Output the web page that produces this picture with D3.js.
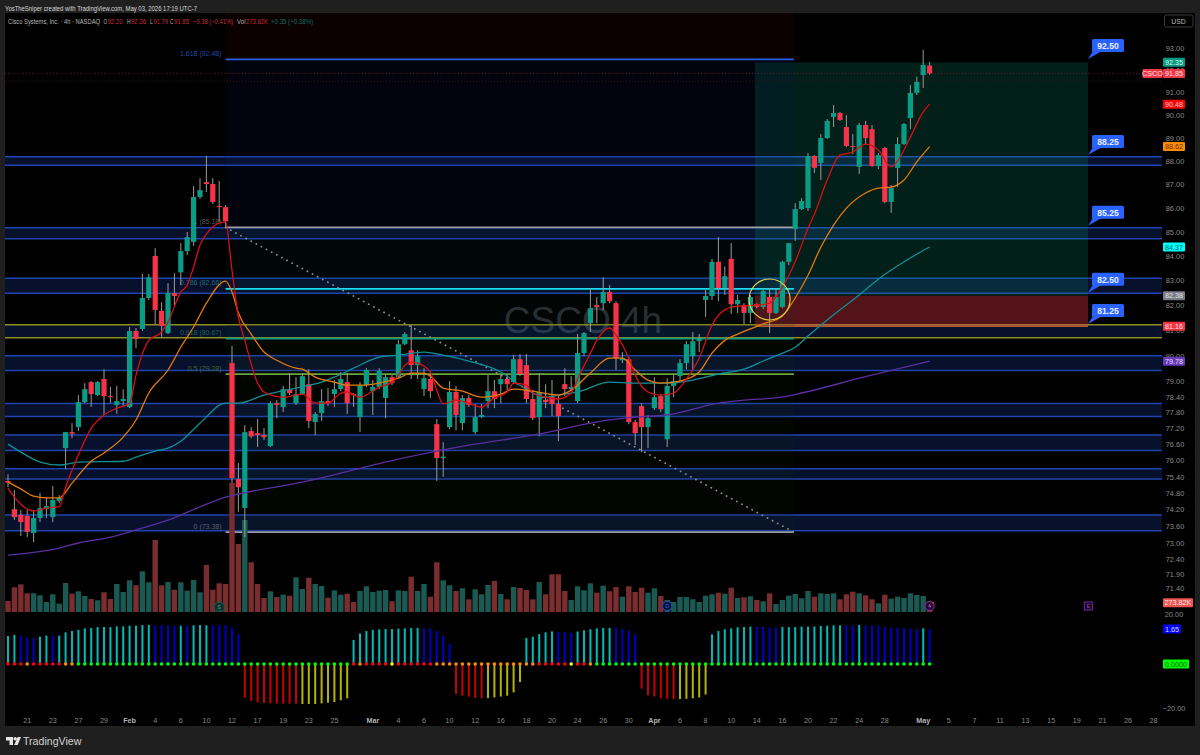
<!DOCTYPE html>
<html>
<head>
<meta charset="utf-8">
<title>CSCO 4h</title>
<script src="https://cdn.jsdelivr.net/npm/d3@7/dist/d3.min.js"></script>
<style>
  html, body { margin: 0; padding: 0; background: #1f1f1f; overflow: hidden; }
  svg { display: block; font-family: "Liberation Sans", Arial, sans-serif; }
</style>
</head>
<body>
<svg id="chart" width="1200" height="755"></svg>
<script>
// ── Data ──────────────────────────────────────────────────────────────────────

const opens = [
  75.24,74.21,74.00,73.96,73.35,73.89,74.21,73.92,74.51,76.46,
  77.06,77.25,78.20,78.97,78.47,79.09,78.43,78.09,78.24,78.01,
  80.97,81.05,82.29,84.00,81.77,80.89,82.49,83.33,84.20,84.58,
  86.46,87.09,87.01,86.08,86.03,79.71,75.31,74.25,77.10,77.02,
  76.95,76.54,78.16,78.01,78.70,78.16,78.51,78.89,77.44,77.78,
  78.24,78.51,78.70,78.97,78.51,77.63,78.85,78.62,78.78,78.36,
  79.16,79.16,80.45,80.21,79.63,78.70,79.09,77.36,76.09,77.25,
  78.59,77.40,78.36,77.06,77.63,78.24,78.62,78.89,79.09,78.97,
  79.86,79.63,78.32,77.63,78.28,78.43,78.13,78.89,78.70,78.24,
  80.10,81.28,82.00,82.08,82.53,82.08,79.82,79.86,77.44,78.05,
  77.25,77.97,78.43,76.79,78.82,79.20,79.71,79.98,80.57,82.21,
  82.37,83.76,82.69,83.88,82.04,82.00,81.69,82.04,81.93,82.33,
  81.69,81.93,83.76,85.11,85.95,85.99,88.21,87.91,88.99,89.91,
  90.09,89.47,88.64,87.74,89.56,89.38,87.78,88.56,86.25,87.70,
  88.73,89.87,90.98,91.78,92.20
];
const highs = [
  75.49,74.91,74.18,74.18,74.18,74.80,74.62,75.05,74.72,77.06,
  77.40,78.47,78.93,79.01,79.01,79.47,78.78,78.82,78.70,81.13,
  81.09,83.26,83.26,84.32,82.12,82.89,83.29,84.53,84.99,86.92,
  87.26,88.21,87.26,87.14,86.12,80.38,75.90,77.33,77.25,77.55,
  77.21,78.24,78.28,78.82,79.32,79.16,79.32,79.47,77.82,78.70,
  78.74,79.05,79.36,79.32,78.55,78.97,79.51,79.05,79.51,79.24,
  79.24,80.60,80.93,81.21,80.21,79.51,79.36,77.55,76.68,79.01,
  78.82,78.47,78.47,78.13,78.13,79.24,79.05,79.24,79.24,80.02,
  80.06,80.06,78.66,79.32,78.89,79.05,78.43,79.51,79.20,80.85,
  80.93,82.69,82.33,83.13,82.81,82.16,80.14,79.94,77.52,78.16,
  77.71,79.16,78.51,79.12,79.24,79.86,80.57,80.93,80.85,82.61,
  83.88,84.78,83.57,84.53,82.41,82.08,82.41,82.08,82.69,82.69,
  82.69,83.80,84.53,86.20,86.41,88.34,88.25,89.16,89.82,90.44,
  90.13,90.00,89.16,89.65,89.74,89.56,88.34,88.60,86.97,89.03,
  89.65,91.33,91.70,92.91,92.36
];
const lows = [
  75.01,73.82,73.24,73.20,73.02,73.74,73.89,73.74,74.43,75.68,
  76.83,77.10,78.16,78.01,78.43,77.71,78.16,77.75,78.01,77.97,
  80.29,80.97,82.21,81.21,80.74,80.85,82.00,82.81,84.04,84.42,
  86.38,86.67,86.16,85.40,85.19,75.16,74.11,73.20,76.83,76.50,
  76.76,76.50,77.59,77.82,78.47,78.09,78.47,77.21,76.95,77.48,
  78.05,78.01,78.62,77.75,78.01,77.06,78.78,77.71,78.70,77.59,
  78.85,79.12,80.41,79.09,79.09,78.43,78.36,75.24,75.39,77.17,
  77.13,77.13,78.01,76.98,77.59,77.97,77.97,78.16,78.66,78.89,
  79.20,78.16,77.52,76.90,77.97,77.67,76.72,78.43,78.62,78.16,
  79.98,80.93,81.28,81.81,82.08,79.44,79.71,77.36,76.57,76.31,
  76.46,77.90,77.82,76.50,78.39,79.01,79.47,79.44,80.14,81.53,
  82.21,82.16,82.41,81.65,81.69,81.25,81.28,81.88,81.85,80.89,
  81.65,81.88,83.63,84.62,85.91,85.87,87.48,87.18,88.95,89.47,
  89.74,88.60,88.30,87.44,88.73,87.74,87.65,86.20,85.79,86.88,
  88.69,89.38,90.89,91.20,91.79
];
const closes = [
  75.18,73.92,73.74,73.39,73.89,74.25,74.32,74.54,74.62,77.06,
  77.00,78.20,78.70,78.51,78.97,78.43,78.39,78.24,78.32,80.97,
  80.65,82.29,83.13,81.81,81.17,82.49,82.37,84.20,84.78,86.46,
  86.75,87.01,86.25,86.03,85.44,75.35,75.01,77.06,76.90,76.95,
  76.87,78.16,78.09,78.70,78.55,78.51,79.20,77.48,77.75,78.24,
  78.16,78.70,79.09,78.16,78.47,78.85,79.44,78.78,79.40,79.16,
  78.93,80.45,80.85,79.63,79.98,79.12,78.62,76.09,76.14,78.59,
  77.71,78.36,78.09,77.63,77.71,78.62,78.32,79.09,78.89,79.86,
  79.28,78.32,77.59,78.59,78.20,78.13,77.67,78.70,78.78,80.10,
  80.89,81.88,81.93,82.53,82.16,79.90,79.90,77.44,77.02,77.25,
  77.59,78.39,77.93,78.82,79.01,79.71,80.45,80.57,80.65,82.37,
  83.76,82.69,83.17,82.04,82.21,81.69,82.33,81.93,82.57,81.69,
  82.33,83.76,84.53,85.95,86.29,88.21,87.70,88.99,89.74,90.09,
  89.78,88.64,88.60,89.56,88.99,87.78,88.25,86.25,86.84,88.73,
  89.60,90.98,91.47,92.23,91.85
];
// thousands of shares
const volumes = [
  330,741,831,561,561,501,300,531,249,870,
  549,621,480,390,351,591,390,840,600,951,
  801,1221,891,2160,801,900,669,891,639,960,
  591,1410,669,861,840,3870,2040,2760,1491,840,
  420,621,450,519,489,1041,690,1029,840,780,
  429,651,519,549,300,630,771,600,639,660,
  321,651,630,1059,630,840,459,1491,951,801,
  630,711,381,681,531,810,930,540,381,750,
  720,660,381,900,531,1131,1131,630,360,771,
  651,861,579,789,621,750,459,771,600,729,
  579,711,480,360,300,450,450,381,300,489,
  531,579,549,729,420,441,471,360,321,561,
  240,360,489,540,411,630,459,561,540,561,
  381,531,609,561,501,381,261,519,399,459,
  420,561,510,480,273.82
];
const oscValues = [
  12.7,13.2,12.7,12.0,11.8,12.4,12.9,12.9,12.9,14.4,
  15.0,15.5,16.2,16.4,16.8,16.8,16.8,17.1,17.1,17.4,
  17.4,17.7,17.7,17.6,17.6,17.6,17.4,17.4,17.4,17.6,
  17.7,17.6,17.6,17.6,17.6,16.5,13.6,-15.3,-16.8,-17.4,
  -17.7,-17.9,-18.0,-18.0,-18.0,-18.0,-18.2,-18.2,-18.2,-17.9,
  -17.6,-17.3,-16.5,-15.6,10.9,13.9,15.0,15.5,15.8,15.9,
  15.9,16.1,16.2,16.4,16.4,16.2,16.1,15.0,12.9,9.1,
  -13.6,-14.4,-14.8,-15.5,-15.6,-15.5,-15.2,-14.8,-14.4,-12.9,
  -8.2,11.8,12.4,13.6,14.4,14.8,14.5,14.5,14.1,14.8,
  15.3,15.8,16.2,16.4,16.4,16.4,15.9,15.3,13.5,-11.2,
  -14.2,-14.8,-15.6,-15.9,-15.9,-15.9,-15.8,-15.6,-15.2,-13.9,
  13.5,15.0,15.8,16.2,16.7,16.8,17.0,16.8,16.8,16.7,
  16.5,16.8,16.8,16.8,17.0,17.0,17.1,17.3,17.4,17.6,
  17.6,17.6,17.6,17.7,17.6,17.4,17.3,16.8,16.5,16.4,
  16.2,16.1,15.9,16.2,15.9
];
// one letter per bar: t teal, b blue, r red, y yellow
const oscShade = 'ttbbbttb' + 'ttttttttttttttt' + 'bbbb' + 't' + 'b' + 'ttt' + 'bbbbb' +
  'rrrrrrrrr' + 'yyyyyyyy' + 'ttttttttttt' + 'bbbbb' + 'rrrrr' + 'yyyyyy' + 'ttttt' + 'bbb' +
  'tttttt' + 'bbbb' + 'rrrrrr' + 'yyyyy' + 'ttttttt' + 'bbbb' + 'tttttttttt' + 'bb' + 't' +
  'bbbbbbbbb' + 't' + 'b';
// one letter per bar: r red, o orange, g lime, y yellow
const oscDots = 'rrrorrrrroo' + 'g'.repeat(43) + 'r' + 'o' + 'rrrr' + 'y' + 'rrrrrr' +
  'oooooooooooooooo' + 'rrrrr' + 'y' + 'rr' + 'o' + 'g'.repeat(53);

// moving averages: [bar, price]
const maFast = [[0,74.98],[1,74.65],[4,74.14],[6,74.25],[8,74.30],[9,75.01],[11,76.20],[13,77.21],[15,77.71],[17,77.97],[19,78.16],[20,79.24],[22,80.60],[24,80.93],[25,81.33],[27,82.53],[28,82.81],[29,83.55],[30,84.45],[31,84.90],[33,85.36],[34,85.40],[35,83.41],[36,81.53],[37,80.60],[39,78.93],[40,78.59],[43,78.39],[46,78.51],[48,78.16],[50,78.16],[52,78.55],[53,78.59],[55,78.39],[58,78.78],[60,78.97],[61,79.24],[62,79.63],[63,79.75],[64,79.71],[66,79.36],[67,78.66],[68,78.13],[70,78.28],[72,78.16],[74,78.01],[76,78.36],[78,78.59],[79,78.93],[81,78.85],[82,78.55],[84,78.39],[86,78.32],[88,78.55],[89,79.09],[91,80.10],[92,80.60],[94,81.09],[95,80.82],[97,79.90],[98,79.24],[100,78.59],[102,78.47],[104,78.55],[106,79.09],[108,79.90],[110,81.21],[112,81.81],[114,81.96],[117,82.00],[119,82.08],[121,82.73],[123,83.76],[125,85.15],[126,85.74],[128,87.18],[130,88.25],[132,88.38],[134,88.73],[136,88.47],[138,87.74],[139,88.00],[141,89.03],[143,90.14],[144,90.48]];
const maMid = [[0,75.20],[2,74.95],[4,74.68],[6,74.62],[8,74.62],[10,75.16],[13,75.97],[15,76.28],[18,76.87],[20,77.52],[22,78.55],[25,79.44],[27,80.33],[29,81.13],[31,82.08],[34,82.97],[35,82.53],[36,81.69],[38,80.85],[40,80.14],[42,79.82],[45,79.51],[46,79.47],[48,79.16],[51,78.97],[53,78.85],[55,78.85],[58,78.93],[61,79.12],[63,79.32],[65,79.32],[66,79.20],[68,78.74],[71,78.62],[74,78.39],[77,78.51],[79,78.70],[82,78.62],[86,78.47],[88,78.66],[91,79.32],[94,79.90],[96,79.90],[98,79.44],[100,79.05],[102,78.93],[105,79.01],[108,79.36],[110,80.10],[112,80.60],[114,80.85],[118,81.25],[121,81.57],[123,82.29],[125,83.21],[127,84.36],[129,85.28],[131,85.99],[134,86.63],[136,86.84],[138,86.88],[140,87.18],[142,87.96],[144,88.62]];
const maSlow = [[0,76.61],[2,76.31],[5,75.94],[8,75.83],[11,75.94],[18,75.97],[20,76.12],[23,76.35],[25,76.46],[27,76.72],[30,77.40],[34,78.16],[36,78.16],[40,78.47],[45,78.74],[49,78.97],[51,79.16],[54,79.51],[58,79.94],[61,80.02],[65,80.14],[68,80.02],[72,79.79],[77,79.36],[80,78.85],[84,78.39],[86,78.47],[89,78.59],[94,78.97],[98,78.93],[103,78.93],[107,79.05],[111,79.28],[115,79.47],[118,79.79],[121,80.10],[123,80.33],[125,80.77],[128,81.41],[133,82.41],[136,83.05],[140,83.76],[144,84.37]];
const maLong = [[0,72.56],[8,72.81],[11,72.99],[16,73.20],[20,73.46],[25,73.81],[30,74.29],[34,74.65],[36,74.76],[46,75.20],[61,76.05],[72,76.57],[82,76.95],[94,77.52],[98,77.63],[103,77.71],[111,78.16],[115,78.28],[120,78.36],[124,78.55],[133,79.12],[144,79.78]];

// support / resistance zones: [upper, lower]
const zones = [[88.18,87.81],[85.17,84.71],[83.09,82.48],[81.22,80.70],[80.00,79.42],[78.15,77.65],[76.95,76.37],[75.69,75.31],[74.00,73.43]];
const yellowZone = 3;

// fib retracement
const fibRatios = ['1.618','1','0.786','0.618','0.5','0'];
const fibPrices = [92.48,85.18,82.66,80.67,79.28,73.38];
const fibColors = ['#2a5fe6','#a0a0a4','#19dcf2','#0d9d84','#6aa83c','#9a9aa6'];
const fibText   = ['#2048a8','#55555a','#1f6a78','#1b6256','#40682a','#606066'];
const fibBands  = ['rgba(120,10,10,0.10)','rgba(20,30,120,0.10)','rgba(10,60,70,0.12)','rgba(10,60,40,0.10)','rgba(30,70,20,0.10)','rgba(20,50,10,0.10)'];

// long position
const positionTop = 92.35, positionEntry = 82.38, positionStop = 81.16;

// blue callouts
const callouts = ['92.50','88.25','85.25','82.50','81.25'];

// price axis
const priceTicks = [93,92,91,90,89,88,87,86,85,84,83,82,81,80,79,78.4,77.8,77.2,76.6,76,75.4,74.8,74.2,73.6,73,72.4,71.9,71.4];
const priceTags = [
  ['92.35', 92.35, '#089981', '#d8f5ee'],
  ['91.85', 91.85, '#f23645', '#ffe4e6'],
  ['90.48', 90.48, '#ff0000', '#ffdada'],
  ['88.62', 88.62, '#ff8c00', '#5a3000'],
  ['84.37', 84.37, '#00ffff', '#066'],
  ['82.38', 82.38, '#787b86', '#e6e6e6'],
  ['81.16', 81.16, '#f23645', '#ffe4e6'],
  ['79.78', 79.78, '#673ab7', '#e8dcff']
];

// time axis: [bar, label, major]
const timeTicks = [[3,'21'],[7,'23'],[11,'27'],[15,'29'],[19,'Feb',1],[23,'4'],[27,'6'],[31,'10'],[35,'12'],[39,'17'],[43,'19'],[47,'23'],[51,'25'],[57,'Mar',1],[61,'4'],[65,'6'],[69,'10'],[73,'12'],[77,'16'],[81,'18'],[85,'20'],[89,'24'],[93,'26'],[97,'30'],[101,'Apr',1],[105,'6'],[109,'8'],[113,'10'],[117,'14'],[121,'16'],[125,'20'],[129,'22'],[133,'24'],[137,'28'],[143,'May',1],[147,'5'],[151,'7'],[155,'11'],[159,'13'],[163,'15'],[167,'19'],[171,'21'],[175,'26'],[179,'28']];

// legend text: [x, width, text, colour]
const legendRed = '#c8303c', legendGreen = '#0b7f6c', legendGrey = '#b8b8b8';
const legendBits = [
  [8,92,'Cisco Systems, Inc. · 4h · NASDAQ',legendGrey],
  [103.5,3.6,'O',legendGrey],[107.5,15,'92.20',legendRed],[127,3.6,'H',legendGrey],[131,15,'92.36',legendRed],
  [150,2.8,'L',legendGrey],[153.5,14.5,'91.79',legendRed],[170,3.4,'C',legendGrey],[174,15,'91.85',legendRed],
  [193,40,'−0.38 (−0.41%)',legendRed],[237,8.5,'Vol',legendGrey],[246,22,'273.82K',legendRed],
  [271,42,'+0.35 (+0.38%)',legendGreen]
];

// ── Scales ────────────────────────────────────────────────────────────────────

const paneLeft = 5, paneRight = 1162, paneTop = 13, paneBottom = 726;
const x    = d3.scaleLinear().domain([0, 144]).range([8, 929.6]);
const y    = d3.scaleLog().domain([71.4, 93]).range([588, 48]);
const yVol = d3.scaleLinear().domain([0, 3000]).range([612, 512]);
const yOsc = d3.scaleLinear().domain([-20, 20]).range([708, 620]);

const svg = d3.select('#chart');

// ── Frame ─────────────────────────────────────────────────────────────────────

svg.append('rect').attr('width', 1200).attr('height', 755).attr('fill', '#1f1f1f');
svg.append('rect')
  .attr('x', paneLeft).attr('y', paneTop)
  .attr('width', 1195 - paneLeft).attr('height', paneBottom - paneTop)
  .attr('fill', '#000');

svg.append('text')
  .attr('x', 5).attr('y', 10.5)
  .attr('font-size', 7.2).attr('fill', '#d8d8d8')
  .attr('textLength', 192).attr('lengthAdjust', 'spacingAndGlyphs')
  .text('YosTheSniper created with TradingView.com, May 03, 2026 17:19 UTC-7');

svg.append('g').selectAll('text').data(legendBits).enter().append('text')
  .attr('x', d => d[0]).attr('y', 23.5)
  .attr('font-size', 7.2)
  .attr('textLength', d => d[1]).attr('lengthAdjust', 'spacingAndGlyphs')
  .attr('fill', d => d[3])
  .text(d => d[2]);

// ── Fib backdrop ──────────────────────────────────────────────────────────────

const fibLeft = x(34), fibRight = x(122.8);
const fibG = svg.append('g');
fibG.selectAll('rect').data(fibPrices).enter().append('rect')
  .attr('x', fibLeft).attr('width', fibRight - fibLeft)
  .attr('y', (d, i) => i === 0 ? paneTop : y(fibPrices[i - 1]))
  .attr('height', (d, i) => y(d) - (i === 0 ? paneTop : y(fibPrices[i - 1])))
  .attr('fill', (d, i) => fibBands[i]);

// ── Watermark ─────────────────────────────────────────────────────────────────

svg.append('text')
  .attr('x', 583).attr('y', 333)
  .attr('text-anchor', 'middle')
  .attr('font-size', 37).attr('fill', '#2b2e33')
  .text('CSCO 4h');

// ── Zones ─────────────────────────────────────────────────────────────────────

const zoneG = svg.append('g');
zones.forEach((z, i) => {
  const line = i === yellowZone ? '#8f8e20' : '#1f45ad';
  zoneG.append('rect')
    .attr('x', paneLeft).attr('width', paneRight - paneLeft)
    .attr('y', y(z[0])).attr('height', y(z[1]) - y(z[0]))
    .attr('fill', 'rgba(41,98,255,0.17)');
  z.forEach(p => {
    zoneG.append('line')
      .attr('x1', paneLeft).attr('x2', paneRight)
      .attr('y1', y(p)).attr('y2', y(p))
      .attr('stroke', line).attr('stroke-width', 1.5);
  });
});

// ── Long position box ─────────────────────────────────────────────────────────

const posLeft = x(116.7), posRight = x(168.75);
svg.append('rect')
  .attr('x', posLeft).attr('width', posRight - posLeft)
  .attr('y', y(positionTop)).attr('height', y(positionEntry) - y(positionTop))
  .attr('fill', 'rgba(8,153,129,0.2)');
svg.append('rect')
  .attr('x', posLeft).attr('width', posRight - posLeft)
  .attr('y', y(positionEntry)).attr('height', y(positionStop) - y(positionEntry))
  .attr('fill', 'rgba(242,54,69,0.35)');
svg.append('line')
  .attr('x1', posLeft).attr('x2', posRight)
  .attr('y1', y(positionStop)).attr('y2', y(positionStop))
  .attr('stroke', '#e0763a').attr('stroke-width', 1.2);

// ── Fib lines, labels and trend ───────────────────────────────────────────────

fibG.raise();
const fibLines = svg.append('g');
fibLines.selectAll('line').data(fibPrices).enter().append('line')
  .attr('x1', fibLeft).attr('x2', fibRight)
  .attr('y1', d => y(d)).attr('y2', d => y(d))
  .attr('stroke', (d, i) => fibColors[i])
  .attr('stroke-width', 1.8);
fibLines.selectAll('text').data(fibPrices).enter().append('text')
  .attr('x', fibLeft - 4).attr('y', d => y(d) - 3.5)
  .attr('text-anchor', 'end')
  .attr('font-size', 7)
  .attr('fill', (d, i) => fibText[i])
  .text((d, i) => `${fibRatios[i]} (${d.toFixed(2)})`);

svg.append('line')
  .attr('x1', fibLeft).attr('y1', y(fibPrices[1]))
  .attr('x2', fibRight).attr('y2', y(fibPrices[5]))
  .attr('stroke', '#8c8c8c').attr('stroke-width', 1.8)
  .attr('stroke-linecap', 'round').attr('stroke-dasharray', '0.1 5.7');

// current price lines
[91.85, 91.5].forEach((p, i) => {
  svg.append('line')
    .attr('x1', paneLeft).attr('x2', paneRight)
    .attr('y1', y(p)).attr('y2', y(p))
    .attr('stroke', i === 0 ? '#5a1a20' : '#3a1418')
    .attr('stroke-dasharray', '1 2');
});

// ── Volume ────────────────────────────────────────────────────────────────────

const upper = i => closes[i] >= opens[i];
svg.append('g').selectAll('rect').data(volumes).enter().append('rect')
  .attr('x', (d, i) => x(i) - 2.7).attr('width', 5.4)
  .attr('y', d => yVol(d)).attr('height', d => yVol(0) - yVol(d))
  .attr('fill', (d, i) => upper(i) ? '#1a5a52' : '#7a2d2f');

// ── Candles ───────────────────────────────────────────────────────────────────

const bars = d3.range(opens.length);
const candleG = svg.append('g');
candleG.selectAll('line').data(bars).enter().append('line')
  .attr('x1', i => x(i)).attr('x2', i => x(i))
  .attr('y1', i => y(highs[i])).attr('y2', i => y(lows[i]))
  .attr('stroke', '#9a9a9a').attr('stroke-width', 1);
candleG.selectAll('rect').data(bars).enter().append('rect')
  .attr('x', i => x(i) - 2.6).attr('width', 5.2)
  .attr('y', i => y(Math.max(opens[i], closes[i])))
  .attr('height', i => Math.max(1, Math.abs(y(opens[i]) - y(closes[i]))))
  .attr('fill', i => upper(i) ? '#0a9c84' : '#f7334a');

// ── Moving averages ───────────────────────────────────────────────────────────

const maLine = d3.line().x(d => x(d[0])).y(d => y(d[1])).curve(d3.curveMonotoneX);
[[maLong, '#5a2fa0'], [maSlow, '#0f8f96'], [maMid, '#e67a0a'], [maFast, '#d90f14']].forEach(([pts, color]) => {
  svg.append('path')
    .attr('d', maLine(pts))
    .attr('fill', 'none')
    .attr('stroke', color)
    .attr('stroke-width', 1.3);
});

// yellow marker circle
svg.append('circle')
  .attr('cx', x(119)).attr('cy', y(82.23)).attr('r', 20.5)
  .attr('fill', 'none').attr('stroke', '#e8d44a').attr('stroke-width', 1.1);

// ── Callouts ──────────────────────────────────────────────────────────────────

const calloutG = svg.append('g');
callouts.forEach(label => {
  const tipY = y(+label);
  const tipX = posRight;
  calloutG.append('path')
    .attr('d', `M${tipX},${tipY} L${tipX + 5},${tipY - 8} L${tipX + 14},${tipY - 8} Z`)
    .attr('fill', '#2962ff');
  calloutG.append('rect')
    .attr('x', tipX + 4).attr('y', tipY - 20)
    .attr('width', 32).attr('height', 13).attr('rx', 1.5)
    .attr('fill', '#2962ff');
  calloutG.append('text')
    .attr('x', tipX + 20).attr('y', tipY - 10)
    .attr('text-anchor', 'middle')
    .attr('font-size', 8.6).attr('font-weight', 700).attr('fill', '#e8eeff')
    .text(label);
});

// ── Oscillator ────────────────────────────────────────────────────────────────

const shadeColor = { t: '#00b8b8', b: '#0000c4', r: '#c80000', y: '#b4b400' };
const dotColor   = { r: '#ff0000', o: '#ff8c00', g: '#00ff00', y: '#ffff00' };
const oscG = svg.append('g');
oscG.selectAll('rect').data(oscValues).enter().append('rect')
  .attr('x', (d, i) => x(i) - 1).attr('width', 2)
  .attr('y', d => Math.min(yOsc(d), yOsc(0)))
  .attr('height', d => Math.abs(yOsc(d) - yOsc(0)))
  .attr('fill', (d, i) => shadeColor[oscShade[i]]);
oscG.selectAll('circle').data(bars).enter().append('circle')
  .attr('cx', i => x(i)).attr('cy', yOsc(0)).attr('r', 1.8)
  .attr('fill', i => dotColor[oscDots[i]]);

// ── Event icons ───────────────────────────────────────────────────────────────

const iconG = svg.append('g').attr('font-size', 5.5).attr('text-anchor', 'middle');
iconG.append('path')
  .attr('d', `M${x(33) - 5},611 v-6 q5,-6 10,0 v6 Z`)
  .attr('fill', '#0f2f2c').attr('stroke', '#155a52');
iconG.append('text').attr('x', x(33)).attr('y', 609).attr('fill', '#4f9c8e').text('S');
iconG.append('circle').attr('cx', x(103)).attr('cy', 606).attr('r', 4.6)
  .attr('fill', '#06102c').attr('stroke', '#1c47b8').attr('stroke-width', 1.2);
iconG.append('text').attr('x', x(103)).attr('y', 608).attr('fill', '#2962ff').text('D');
iconG.append('circle').attr('cx', x(144)).attr('cy', 606).attr('r', 4.6)
  .attr('fill', '#200a26').attr('stroke', '#7b2a8f').attr('stroke-width', 1.2);
iconG.append('path')
  .attr('d', `M${x(144) + 1},603 l-2.6,3.6 h2 l-1,2.6 l2.8,-3.8 h-2 Z`)
  .attr('fill', '#b44fd0');
iconG.append('circle').attr('cx', x(144) + 3.5).attr('cy', 602.8).attr('r', 1).attr('fill', '#f23645');
iconG.append('rect').attr('x', x(168.8) - 4).attr('y', 602).attr('width', 8).attr('height', 8)
  .attr('fill', '#120318').attr('stroke', '#7b1fa2').attr('stroke-width', 1.1);
iconG.append('text').attr('x', x(168.8)).attr('y', 608).attr('fill', '#a040c0').text('E');

// ── Price axis ────────────────────────────────────────────────────────────────

const tagW = 22;
const axisG = svg.append('g')
  .attr('transform', 'translate(1175,0)')
  .call(d3.axisRight(y).tickValues(priceTicks).tickSize(0).tickPadding(0).tickFormat(d3.format('.2f')));
axisG.select('.domain').remove();
axisG.selectAll('text')
  .attr('text-anchor', 'middle')
  .attr('font-family', '"Liberation Sans", Arial, sans-serif')
  .attr('font-size', 7.4).attr('fill', '#8a8a8a');

// osc pane ticks
[[20, 614], [-20, 708]].forEach(([v, py]) => {
  svg.append('text').attr('x', 1174).attr('y', py + 2.5)
    .attr('text-anchor', 'middle').attr('font-size', 7.4).attr('fill', '#8a8a8a')
    .text(v < 0 ? '−20.00' : '20.00');
});

function tag(text, cy, w, bg, fg, left) {
  svg.append('rect')
    .attr('x', left).attr('y', cy - 4.5).attr('width', w).attr('height', 9).attr('rx', 1)
    .attr('fill', bg);
  svg.append('text')
    .attr('x', left + w / 2).attr('y', cy + 2.6)
    .attr('text-anchor', 'middle').attr('font-size', 7.2).attr('fill', fg)
    .text(text);
}

priceTags.forEach(([t, p, bg, fg]) => tag(t, y(p), tagW, bg, fg, 1163));
tag('CSCO', y(91.85), 20, '#f23645', '#ffe4e6', 1142.5);
tag('273.82K', yVol(273.82), 30, '#ef5350', '#ffe9e9', 1163);
tag('1.65', 629, 18, '#0000ff', '#dcdcff', 1163);
tag('0.0000', yOsc(0), 26, '#00ff00', '#0a5a0a', 1163);

// USD button
svg.append('rect')
  .attr('x', 1164.5).attr('y', 15).attr('width', 28.5).attr('height', 12).attr('rx', 2)
  .attr('fill', '#000').attr('stroke', '#3a3a3a');
svg.append('text')
  .attr('x', 1178.5).attr('y', 23.5)
  .attr('text-anchor', 'middle').attr('font-size', 6.8).attr('fill', '#bdbdbd')
  .text('USD');

// ── Time axis ─────────────────────────────────────────────────────────────────

svg.append('g').selectAll('text').data(timeTicks).enter().append('text')
  .attr('x', d => x(d[0])).attr('y', 722.5)
  .attr('text-anchor', 'middle')
  .attr('font-size', 7.2)
  .attr('font-weight', d => d[2] ? 700 : 400)
  .attr('fill', d => d[2] ? '#b4b4b4' : '#8a8a8a')
  .text(d => d[1]);

// ── TradingView mark ──────────────────────────────────────────────────────────

const logo = svg.append('g').attr('fill', '#e6e6e6');
logo.append('path').attr('d', 'M6,737 h7 v8 h-3.5 v-4.5 h-3.5 Z');
logo.append('circle').attr('cx', 15.2).attr('cy', 738.8).attr('r', 1.7);
logo.append('path').attr('d', 'M17.6,737 h3.4 l-3.4,8 h-3.4 Z');
svg.append('text')
  .attr('x', 23).attr('y', 745)
  .attr('font-size', 10.6).attr('fill', '#d4d4d4')
  .text('TradingView');
</script>
</body>
</html>
